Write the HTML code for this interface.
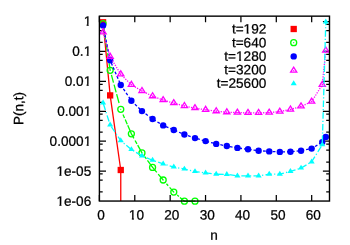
<!DOCTYPE html><html lang="en"><head><title>P(n,t) vs n</title><meta charset="utf-8"><style>html,body{margin:0;padding:0;background:#fff}svg{display:block;will-change:transform}text{font-family:"Liberation Sans",sans-serif;font-size:13.6px;fill:#000;stroke:#000;stroke-width:0.25px}</style></head><body>
<svg width="350" height="245" viewBox="0 0 350 245">
<rect width="350" height="245" fill="#fff"/>
<path d="M99.40 21.57h6.6M329.50 21.57h-6.6M99.40 24.47h3.3M329.50 24.47h-3.3M99.40 30.57h3.3M329.50 30.57h-3.3M99.40 42.47h3.3M329.50 42.47h-3.3M99.40 51.47h6.6M329.50 51.47h-6.6M99.40 54.37h3.3M329.50 54.37h-3.3M99.40 60.47h3.3M329.50 60.47h-3.3M99.40 72.37h3.3M329.50 72.37h-3.3M99.40 81.37h6.6M329.50 81.37h-6.6M99.40 84.27h3.3M329.50 84.27h-3.3M99.40 90.37h3.3M329.50 90.37h-3.3M99.40 102.27h3.3M329.50 102.27h-3.3M99.40 111.27h6.6M329.50 111.27h-6.6M99.40 114.17h3.3M329.50 114.17h-3.3M99.40 120.27h3.3M329.50 120.27h-3.3M99.40 132.17h3.3M329.50 132.17h-3.3M99.40 141.17h6.6M329.50 141.17h-6.6M99.40 144.07h3.3M329.50 144.07h-3.3M99.40 150.17h3.3M329.50 150.17h-3.3M99.40 162.07h3.3M329.50 162.07h-3.3M99.40 171.07h6.6M329.50 171.07h-6.6M99.40 173.97h3.3M329.50 173.97h-3.3M99.40 180.07h3.3M329.50 180.07h-3.3M99.40 191.97h3.3M329.50 191.97h-3.3M99.40 201.05v-6M99.40 16.15v6M134.78 201.05v-6M134.78 16.15v6M170.16 201.05v-6M170.16 16.15v6M205.54 201.05v-6M205.54 16.15v6M240.92 201.05v-6M240.92 16.15v6M276.30 201.05v-6M276.30 16.15v6M311.68 201.05v-6M311.68 16.15v6" stroke="#000" stroke-width="1.25" fill="none"/>
<polyline fill="none" stroke="#ff0000" stroke-width="1.3"  points="103.08,22.30 110.16,95.40 120.76,170.00 120.76,201.05"/>
<rect x="99.93" y="19.15" width="6.3" height="6.3" fill="#ff0000"/>
<rect x="107.00" y="92.25" width="6.3" height="6.3" fill="#ff0000"/>
<rect x="117.61" y="166.85" width="6.3" height="6.3" fill="#ff0000"/>
<polyline fill="none" stroke="#00ff00" stroke-width="1.3" stroke-dasharray="8 2" points="103.08,23.60 110.16,70.30"/>
<polyline fill="none" stroke="#00ff00" stroke-width="1.3" stroke-dasharray="0 4.8 7.9 2.2 7.9 1.9 9.2 100" points="110.16,70.30 120.76,109.30"/>
<polyline fill="none" stroke="#00ff00" stroke-width="1.3" stroke-dasharray="0 5.6 3.8 1.8 5.1 1.2 100" points="120.76,109.30 131.37,133.80"/>
<polyline fill="none" stroke="#00ff00" stroke-width="1.3" stroke-dasharray="5.2 2.4 3.9 1.5 100" points="131.37,133.80 141.97,152.90"/>
<polyline fill="none" stroke="#00ff00" stroke-width="1.3" stroke-dasharray="0 4.7 2.8 1.8 100" points="141.97,152.90 152.57,167.40"/>
<polyline fill="none" stroke="#00ff00" stroke-width="1.3" stroke-dasharray="6.6 2.1 100" points="152.57,167.40 163.18,180.00"/>
<polyline fill="none" stroke="#00ff00" stroke-width="1.3" stroke-dasharray="0 5 2.6 2.2 100" points="163.18,180.00 173.78,192.10"/>
<polyline fill="none" stroke="#00ff00" stroke-width="1.3" stroke-dasharray="0 4.5 2.3 1.4 100" points="173.78,192.10 184.39,201.20"/>
<polyline fill="none" stroke="#00ff00" stroke-width="1.3" stroke-dasharray="100" points="184.39,201.20 195.00,201.20"/>
<circle cx="103.08" cy="23.60" r="3" fill="none" stroke="#00ff00" stroke-width="1.3"/>
<circle cx="103.08" cy="23.60" r="0.6" fill="#00ff00"/>
<circle cx="110.16" cy="70.30" r="3" fill="none" stroke="#00ff00" stroke-width="1.3"/>
<circle cx="110.16" cy="70.30" r="0.6" fill="#00ff00"/>
<circle cx="120.76" cy="109.30" r="3" fill="none" stroke="#00ff00" stroke-width="1.3"/>
<circle cx="120.76" cy="109.30" r="0.6" fill="#00ff00"/>
<circle cx="131.37" cy="133.80" r="3" fill="none" stroke="#00ff00" stroke-width="1.3"/>
<circle cx="131.37" cy="133.80" r="0.6" fill="#00ff00"/>
<circle cx="141.97" cy="152.90" r="3" fill="none" stroke="#00ff00" stroke-width="1.3"/>
<circle cx="141.97" cy="152.90" r="0.6" fill="#00ff00"/>
<circle cx="152.57" cy="167.40" r="3" fill="none" stroke="#00ff00" stroke-width="1.3"/>
<circle cx="152.57" cy="167.40" r="0.6" fill="#00ff00"/>
<circle cx="163.18" cy="180.00" r="3" fill="none" stroke="#00ff00" stroke-width="1.3"/>
<circle cx="163.18" cy="180.00" r="0.6" fill="#00ff00"/>
<circle cx="173.78" cy="192.10" r="3" fill="none" stroke="#00ff00" stroke-width="1.3"/>
<circle cx="173.78" cy="192.10" r="0.6" fill="#00ff00"/>
<circle cx="184.39" cy="201.20" r="3" fill="none" stroke="#00ff00" stroke-width="1.3"/>
<circle cx="184.39" cy="201.20" r="0.6" fill="#00ff00"/>
<circle cx="195.00" cy="201.20" r="3" fill="none" stroke="#00ff00" stroke-width="1.3"/>
<circle cx="195.00" cy="201.20" r="0.6" fill="#00ff00"/>
<polyline fill="none" stroke="#0000ff" stroke-width="1.3" stroke-dasharray="2.8 2" points="103.08,25.40 110.16,60.30 120.76,85.00 131.37,100.70 141.97,111.10 152.57,119.00 163.18,125.40 173.78,130.00 184.39,134.50 195.00,138.10 205.60,141.10 216.20,143.90 226.81,146.00 237.42,147.90 248.02,149.30 258.62,150.70 269.23,151.40 279.83,151.90 290.44,151.70 301.05,150.70 311.65,148.60 322.25,142.10 325.79,136.90"/>
<circle cx="103.08" cy="25.40" r="3.2" fill="#0000ff"/>
<circle cx="110.16" cy="60.30" r="3.2" fill="#0000ff"/>
<circle cx="120.76" cy="85.00" r="3.2" fill="#0000ff"/>
<circle cx="131.37" cy="100.70" r="3.2" fill="#0000ff"/>
<circle cx="141.97" cy="111.10" r="3.2" fill="#0000ff"/>
<circle cx="152.57" cy="119.00" r="3.2" fill="#0000ff"/>
<circle cx="163.18" cy="125.40" r="3.2" fill="#0000ff"/>
<circle cx="173.78" cy="130.00" r="3.2" fill="#0000ff"/>
<circle cx="184.39" cy="134.50" r="3.2" fill="#0000ff"/>
<circle cx="195.00" cy="138.10" r="3.2" fill="#0000ff"/>
<circle cx="205.60" cy="141.10" r="3.2" fill="#0000ff"/>
<circle cx="216.20" cy="143.90" r="3.2" fill="#0000ff"/>
<circle cx="226.81" cy="146.00" r="3.2" fill="#0000ff"/>
<circle cx="237.42" cy="147.90" r="3.2" fill="#0000ff"/>
<circle cx="248.02" cy="149.30" r="3.2" fill="#0000ff"/>
<circle cx="258.62" cy="150.70" r="3.2" fill="#0000ff"/>
<circle cx="269.23" cy="151.40" r="3.2" fill="#0000ff"/>
<circle cx="279.83" cy="151.90" r="3.2" fill="#0000ff"/>
<circle cx="290.44" cy="151.70" r="3.2" fill="#0000ff"/>
<circle cx="301.05" cy="150.70" r="3.2" fill="#0000ff"/>
<circle cx="311.65" cy="148.60" r="3.2" fill="#0000ff"/>
<circle cx="322.25" cy="142.10" r="3.2" fill="#0000ff"/>
<circle cx="325.79" cy="136.90" r="3.2" fill="#0000ff"/>
<polyline fill="none" stroke="#ff00ff" stroke-width="1.3" stroke-dasharray="1.2 1.3" points="103.08,32.30 110.16,56.80 120.76,74.30 131.37,84.80 141.97,91.00 152.57,96.20 163.18,100.10 173.78,103.10 184.39,106.00 195.00,108.10 205.60,109.80 216.20,111.20 226.81,112.20 237.42,112.60 248.02,112.90 258.62,112.90 269.23,112.60 279.83,111.60 290.44,109.50 301.05,106.40 311.65,101.60 322.25,84.80 325.79,50.50"/>
<polygon points="103.08,28.83 99.98,33.85 106.18,33.85" fill="none" stroke="#ff00ff" stroke-width="1.3"/>
<circle cx="103.08" cy="32.30" r="0.65" fill="#ff00ff"/>
<polygon points="110.16,53.33 107.06,58.35 113.25,58.35" fill="none" stroke="#ff00ff" stroke-width="1.3"/>
<circle cx="110.16" cy="56.80" r="0.65" fill="#ff00ff"/>
<polygon points="120.76,70.83 117.66,75.85 123.86,75.85" fill="none" stroke="#ff00ff" stroke-width="1.3"/>
<circle cx="120.76" cy="74.30" r="0.65" fill="#ff00ff"/>
<polygon points="131.37,81.33 128.27,86.35 134.47,86.35" fill="none" stroke="#ff00ff" stroke-width="1.3"/>
<circle cx="131.37" cy="84.80" r="0.65" fill="#ff00ff"/>
<polygon points="141.97,87.53 138.87,92.55 145.07,92.55" fill="none" stroke="#ff00ff" stroke-width="1.3"/>
<circle cx="141.97" cy="91.00" r="0.65" fill="#ff00ff"/>
<polygon points="152.57,92.73 149.47,97.75 155.67,97.75" fill="none" stroke="#ff00ff" stroke-width="1.3"/>
<circle cx="152.57" cy="96.20" r="0.65" fill="#ff00ff"/>
<polygon points="163.18,96.63 160.08,101.65 166.28,101.65" fill="none" stroke="#ff00ff" stroke-width="1.3"/>
<circle cx="163.18" cy="100.10" r="0.65" fill="#ff00ff"/>
<polygon points="173.78,99.63 170.69,104.65 176.88,104.65" fill="none" stroke="#ff00ff" stroke-width="1.3"/>
<circle cx="173.78" cy="103.10" r="0.65" fill="#ff00ff"/>
<polygon points="184.39,102.53 181.29,107.55 187.49,107.55" fill="none" stroke="#ff00ff" stroke-width="1.3"/>
<circle cx="184.39" cy="106.00" r="0.65" fill="#ff00ff"/>
<polygon points="195.00,104.63 191.90,109.65 198.09,109.65" fill="none" stroke="#ff00ff" stroke-width="1.3"/>
<circle cx="195.00" cy="108.10" r="0.65" fill="#ff00ff"/>
<polygon points="205.60,106.33 202.50,111.35 208.70,111.35" fill="none" stroke="#ff00ff" stroke-width="1.3"/>
<circle cx="205.60" cy="109.80" r="0.65" fill="#ff00ff"/>
<polygon points="216.20,107.73 213.10,112.75 219.30,112.75" fill="none" stroke="#ff00ff" stroke-width="1.3"/>
<circle cx="216.20" cy="111.20" r="0.65" fill="#ff00ff"/>
<polygon points="226.81,108.73 223.71,113.75 229.91,113.75" fill="none" stroke="#ff00ff" stroke-width="1.3"/>
<circle cx="226.81" cy="112.20" r="0.65" fill="#ff00ff"/>
<polygon points="237.42,109.13 234.32,114.15 240.52,114.15" fill="none" stroke="#ff00ff" stroke-width="1.3"/>
<circle cx="237.42" cy="112.60" r="0.65" fill="#ff00ff"/>
<polygon points="248.02,109.43 244.92,114.45 251.12,114.45" fill="none" stroke="#ff00ff" stroke-width="1.3"/>
<circle cx="248.02" cy="112.90" r="0.65" fill="#ff00ff"/>
<polygon points="258.62,109.43 255.53,114.45 261.73,114.45" fill="none" stroke="#ff00ff" stroke-width="1.3"/>
<circle cx="258.62" cy="112.90" r="0.65" fill="#ff00ff"/>
<polygon points="269.23,109.13 266.13,114.15 272.33,114.15" fill="none" stroke="#ff00ff" stroke-width="1.3"/>
<circle cx="269.23" cy="112.60" r="0.65" fill="#ff00ff"/>
<polygon points="279.83,108.13 276.73,113.15 282.94,113.15" fill="none" stroke="#ff00ff" stroke-width="1.3"/>
<circle cx="279.83" cy="111.60" r="0.65" fill="#ff00ff"/>
<polygon points="290.44,106.03 287.34,111.05 293.54,111.05" fill="none" stroke="#ff00ff" stroke-width="1.3"/>
<circle cx="290.44" cy="109.50" r="0.65" fill="#ff00ff"/>
<polygon points="301.05,102.93 297.94,107.95 304.15,107.95" fill="none" stroke="#ff00ff" stroke-width="1.3"/>
<circle cx="301.05" cy="106.40" r="0.65" fill="#ff00ff"/>
<polygon points="311.65,98.13 308.55,103.15 314.75,103.15" fill="none" stroke="#ff00ff" stroke-width="1.3"/>
<circle cx="311.65" cy="101.60" r="0.65" fill="#ff00ff"/>
<polygon points="322.25,81.33 319.15,86.35 325.36,86.35" fill="none" stroke="#ff00ff" stroke-width="1.3"/>
<circle cx="322.25" cy="84.80" r="0.65" fill="#ff00ff"/>
<polygon points="325.79,47.03 322.69,52.05 328.89,52.05" fill="none" stroke="#ff00ff" stroke-width="1.3"/>
<circle cx="325.79" cy="50.50" r="0.65" fill="#ff00ff"/>
<polyline fill="none" stroke="#00ffff" stroke-width="1.3" stroke-dasharray="6.5 2.2 1.2 2.2" stroke-dashoffset="11.1" points="103.08,102.85 110.16,124.95 120.76,140.65 131.37,149.55 141.97,155.95 152.57,160.25 163.18,163.85 173.78,167.00 184.39,169.05 195.00,171.55 205.60,172.90 216.20,174.25 226.81,174.35 237.42,175.90 248.02,175.90 258.62,175.90 269.23,174.25 279.83,174.15 290.44,171.35 301.05,168.05 311.65,161.85 322.25,144.75"/>
<polyline fill="none" stroke="#00ffff" stroke-width="1.3" stroke-dasharray="6.5 2 1.2 2" stroke-dashoffset="9.05" points="322.25,144.75 325.79,21.95"/>
<polygon points="103.08,99.43 100.03,104.38 106.13,104.38" fill="#00ffff"/>
<polygon points="110.16,121.53 107.11,126.48 113.20,126.48" fill="#00ffff"/>
<polygon points="120.76,137.23 117.71,142.17 123.81,142.17" fill="#00ffff"/>
<polygon points="131.37,146.13 128.31,151.07 134.42,151.07" fill="#00ffff"/>
<polygon points="141.97,152.53 138.92,157.47 145.02,157.47" fill="#00ffff"/>
<polygon points="152.57,156.83 149.52,161.78 155.62,161.78" fill="#00ffff"/>
<polygon points="163.18,160.43 160.13,165.38 166.23,165.38" fill="#00ffff"/>
<polygon points="173.78,163.58 170.73,168.53 176.84,168.53" fill="#00ffff"/>
<polygon points="184.39,165.63 181.34,170.57 187.44,170.57" fill="#00ffff"/>
<polygon points="195.00,168.13 191.94,173.07 198.05,173.07" fill="#00ffff"/>
<polygon points="205.60,169.48 202.55,174.42 208.65,174.42" fill="#00ffff"/>
<polygon points="216.20,170.83 213.15,175.78 219.25,175.78" fill="#00ffff"/>
<polygon points="226.81,170.93 223.76,175.88 229.86,175.88" fill="#00ffff"/>
<polygon points="237.42,172.48 234.37,177.42 240.47,177.42" fill="#00ffff"/>
<polygon points="248.02,172.48 244.97,177.42 251.07,177.42" fill="#00ffff"/>
<polygon points="258.62,172.48 255.57,177.42 261.68,177.42" fill="#00ffff"/>
<polygon points="269.23,170.83 266.18,175.78 272.28,175.78" fill="#00ffff"/>
<polygon points="279.83,170.73 276.78,175.67 282.88,175.67" fill="#00ffff"/>
<polygon points="290.44,167.93 287.39,172.88 293.49,172.88" fill="#00ffff"/>
<polygon points="301.05,164.63 298.00,169.57 304.10,169.57" fill="#00ffff"/>
<polygon points="311.65,158.43 308.60,163.38 314.70,163.38" fill="#00ffff"/>
<polygon points="322.25,141.33 319.20,146.28 325.31,146.28" fill="#00ffff"/>
<polygon points="325.79,18.53 322.74,23.47 328.84,23.47" fill="#00ffff"/>
<rect x="99.4" y="16.15" width="230.1" height="184.9" fill="none" stroke="#000" stroke-width="1.4"/>
<rect x="290.55" y="25.85" width="6.3" height="6.3" fill="#ff0000"/>
<circle cx="293.70" cy="42.70" r="3" fill="none" stroke="#00ff00" stroke-width="1.3"/>
<circle cx="293.70" cy="42.70" r="0.6" fill="#00ff00"/>
<circle cx="293.70" cy="56.40" r="3.2" fill="#0000ff"/>
<polygon points="293.70,67.18 290.60,72.20 296.80,72.20" fill="none" stroke="#ff00ff" stroke-width="1.3"/>
<circle cx="293.70" cy="70.65" r="0.65" fill="#ff00ff"/>
<polygon points="293.70,80.33 290.65,85.28 296.75,85.28" fill="#00ffff"/>
<text transform="translate(266.30,33.60) rotate(0.03)" text-anchor="end">t=192</text>
<text transform="translate(266.30,47.15) rotate(0.03)" text-anchor="end">t=640</text>
<text transform="translate(266.30,60.70) rotate(0.03)" text-anchor="end">t=1280</text>
<text transform="translate(266.30,74.25) rotate(0.03)" text-anchor="end">t=3200</text>
<text transform="translate(266.30,87.80) rotate(0.03)" text-anchor="end">t=25600</text>
<text transform="translate(91.20,25.70) rotate(0.03)" text-anchor="end">1</text>
<text transform="translate(91.20,55.70) rotate(0.03)" text-anchor="end">0.1</text>
<text transform="translate(91.20,85.70) rotate(0.03)" text-anchor="end">0.01</text>
<text transform="translate(91.20,115.70) rotate(0.03)" text-anchor="end">0.001</text>
<text transform="translate(91.20,145.70) rotate(0.03)" text-anchor="end">0.0001</text>
<text transform="translate(91.20,175.70) rotate(0.03)" text-anchor="end">1e-05</text>
<text transform="translate(91.20,205.70) rotate(0.03)" text-anchor="end">1e-06</text>
<text transform="translate(101.05,219.40) rotate(0.03)" text-anchor="middle">0</text>
<text transform="translate(136.43,219.40) rotate(0.03)" text-anchor="middle">10</text>
<text transform="translate(171.81,219.40) rotate(0.03)" text-anchor="middle">20</text>
<text transform="translate(207.19,219.40) rotate(0.03)" text-anchor="middle">30</text>
<text transform="translate(242.57,219.40) rotate(0.03)" text-anchor="middle">40</text>
<text transform="translate(277.95,219.40) rotate(0.03)" text-anchor="middle">50</text>
<text transform="translate(313.33,219.40) rotate(0.03)" text-anchor="middle">60</text>
<text transform="translate(214.15,239.70) rotate(0.03)" text-anchor="middle">n</text>
<text transform="translate(23.20,108.50) rotate(-89.97)" text-anchor="middle">P(n,t)</text>
<rect x="243.15" y="31.82" width="3.41" height="2.37" fill="#fff"/>
<rect x="248.67" y="31.82" width="2.69" height="2.37" fill="#fff"/>
<rect x="235.58" y="58.91" width="3.41" height="2.37" fill="#fff"/>
<rect x="241.11" y="58.91" width="2.69" height="2.37" fill="#fff"/>
<rect x="83.19" y="23.93" width="3.41" height="2.37" fill="#fff"/>
<rect x="88.71" y="23.93" width="2.69" height="2.37" fill="#fff"/>
<rect x="83.17" y="53.93" width="3.41" height="2.37" fill="#fff"/>
<rect x="88.70" y="53.93" width="2.69" height="2.37" fill="#fff"/>
<rect x="83.17" y="83.93" width="3.41" height="2.37" fill="#fff"/>
<rect x="88.70" y="83.93" width="2.69" height="2.37" fill="#fff"/>
<rect x="83.17" y="113.93" width="3.41" height="2.37" fill="#fff"/>
<rect x="88.70" y="113.93" width="2.69" height="2.37" fill="#fff"/>
<rect x="83.19" y="143.93" width="3.41" height="2.37" fill="#fff"/>
<rect x="88.71" y="143.93" width="2.69" height="2.37" fill="#fff"/>
<rect x="55.97" y="173.91" width="3.41" height="2.37" fill="#fff"/>
<rect x="61.49" y="173.91" width="2.69" height="2.37" fill="#fff"/>
<rect x="55.97" y="203.91" width="3.41" height="2.37" fill="#fff"/>
<rect x="61.49" y="203.91" width="2.69" height="2.37" fill="#fff"/>
<rect x="128.42" y="217.63" width="3.41" height="2.37" fill="#fff"/>
<rect x="133.94" y="217.63" width="2.69" height="2.37" fill="#fff"/>
</svg></body></html>
